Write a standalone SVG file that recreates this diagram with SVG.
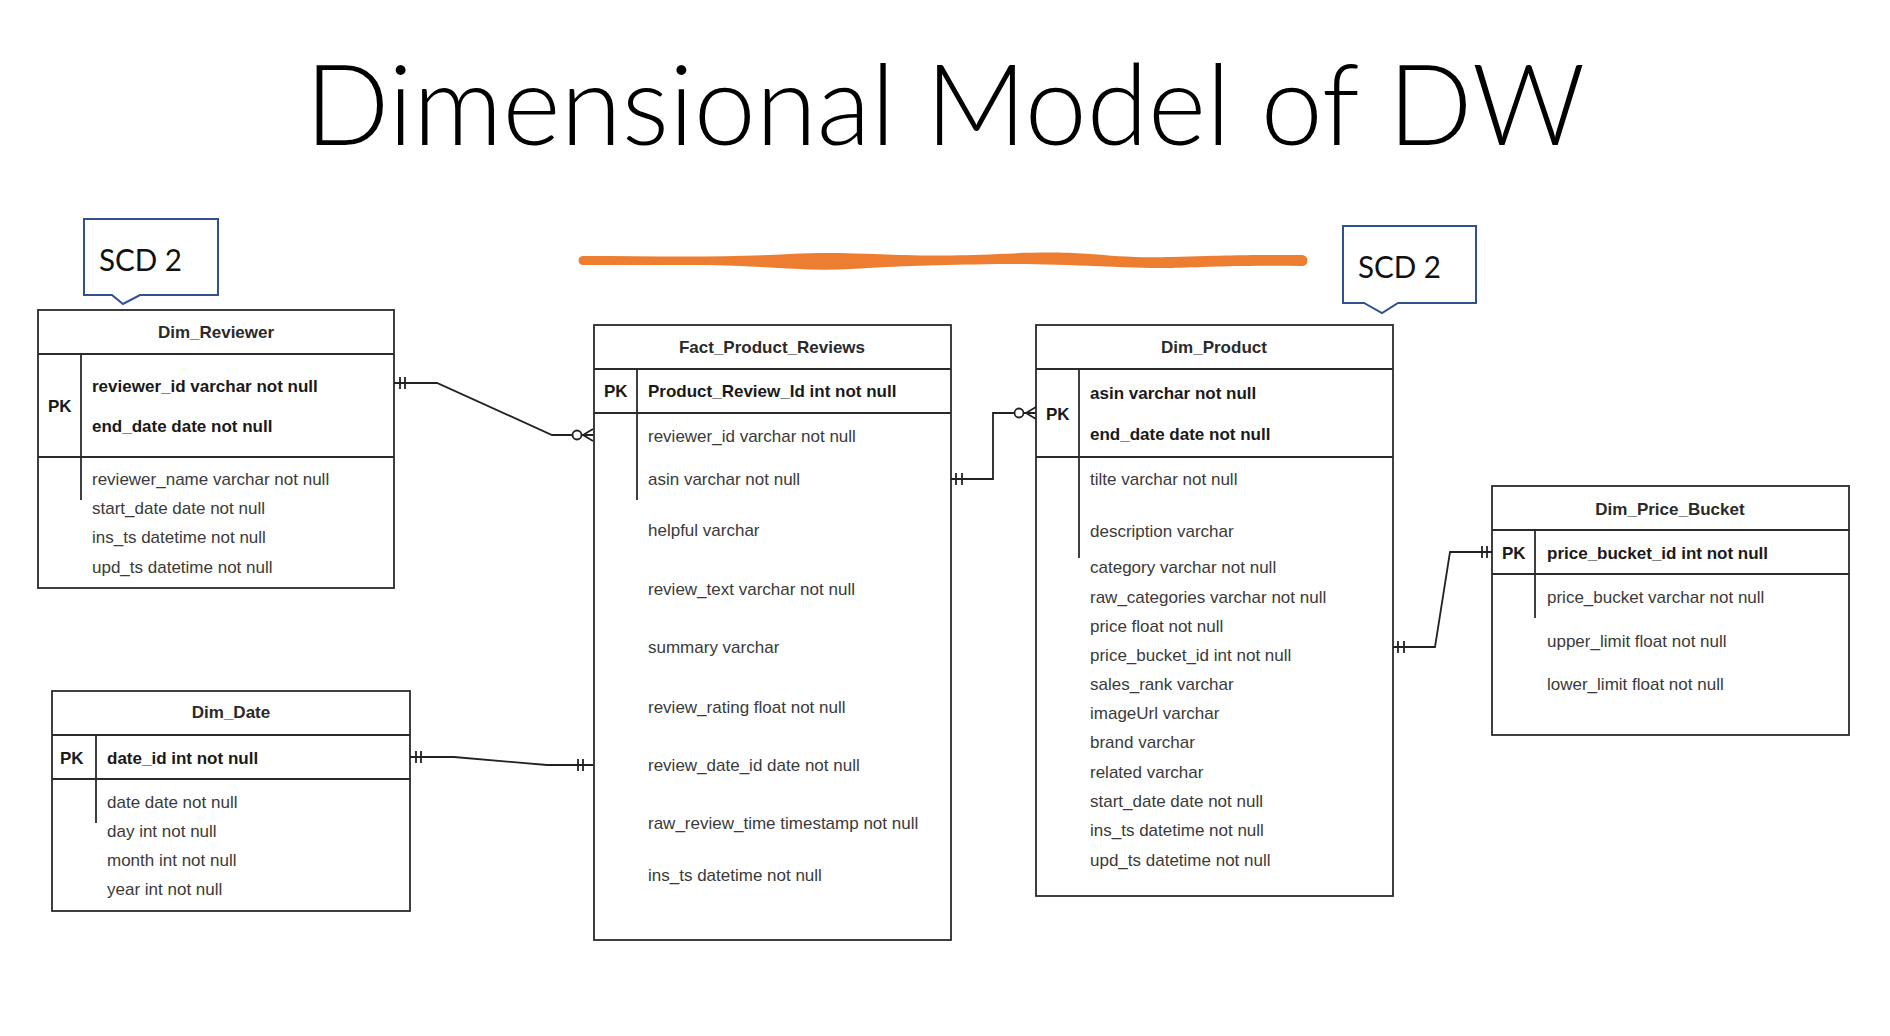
<svg xmlns="http://www.w3.org/2000/svg" width="1890" height="1036" viewBox="0 0 1890 1036">
<style>
.box{fill:#fff;stroke:#2b2b2b;stroke-width:1.8}
.ln{fill:none;stroke:#2b2b2b;stroke-width:1.8}
.hd{font-family:"Liberation Sans",Arial,sans-serif;font-size:17px;font-weight:bold;fill:#2a2a2a;text-anchor:middle}
.b{font-family:"Liberation Sans",Arial,sans-serif;font-size:17px;font-weight:bold;fill:#1a1a1a}
.r{font-family:"Liberation Sans",Arial,sans-serif;font-size:17px;fill:#3a3a3a}
.call{fill:#fff;stroke:#2F528F;stroke-width:2}
.scd{font-family:Lato,"Open Sans",sans-serif;font-size:31px;fill:#111}
.con{fill:none;stroke:#222;stroke-width:1.8}
</style>
<rect width="1890" height="1036" fill="#fff"/>
<text x="305" y="145" font-family="Lato,'Open Sans',sans-serif" font-weight="300" font-size="113" fill="#000" textLength="1280" lengthAdjust="spacingAndGlyphs">Dimensional Model of DW</text>
<path d="M583,256 C650,256 720,258 790,254 S900,259 998,254 S1100,259 1171,257 S1250,255 1302,255 A5.5,5.5 0 0 1 1302,266 C1250,265 1200,267 1171,268 S1060,263 998,264 S900,266 851,269 S760,265 700,265 L583,265 A4.5,4.5 0 0 1 583,256 Z" fill="#ED7D31"/>
<g id="callout-left">
<path class="call" d="M84,219 H218 V295 H140 L123,304 L112,295 H84 Z"/>
<text class="scd" x="99" y="271" textLength="83" lengthAdjust="spacingAndGlyphs">SCD 2</text>
</g>
<g id="callout-right">
<path class="call" d="M1343,226 H1476 V303 H1398 L1382,313 L1364,303 H1343 Z"/>
<text class="scd" x="1358" y="278" textLength="83" lengthAdjust="spacingAndGlyphs">SCD 2</text>
</g>
<g id="Dim_Reviewer">
<rect class="box" x="38" y="310" width="356" height="278"/>
<path class="ln" d="M38,354 H394 M38,457 H394 M81,354 V500"/>
<text class="hd" x="216" y="338">Dim_Reviewer</text>
<text class="b" x="48" y="412">PK</text>
<text class="b" x="92" y="392">reviewer_id varchar not null</text>
<text class="b" x="92" y="432">end_date date not null</text>
<text class="r" x="92" y="485">reviewer_name varchar not null</text>
<text class="r" x="92" y="514">start_date date not null</text>
<text class="r" x="92" y="543">ins_ts datetime not null</text>
<text class="r" x="92" y="573">upd_ts datetime not null</text>
</g>
<g id="Fact_Product_Reviews">
<rect class="box" x="594" y="325" width="357" height="615"/>
<path class="ln" d="M594,369 H951 M594,413 H951 M637,369 V500"/>
<text class="hd" x="772" y="353">Fact_Product_Reviews</text>
<text class="b" x="604" y="397">PK</text>
<text class="b" x="648" y="397">Product_Review_Id int not null</text>
<text class="r" x="648" y="442">reviewer_id varchar not null</text>
<text class="r" x="648" y="485">asin varchar not null</text>
<text class="r" x="648" y="536">helpful varchar</text>
<text class="r" x="648" y="595">review_text varchar not null</text>
<text class="r" x="648" y="653">summary varchar</text>
<text class="r" x="648" y="713">review_rating float not null</text>
<text class="r" x="648" y="771">review_date_id date not null</text>
<text class="r" x="648" y="829">raw_review_time timestamp not null</text>
<text class="r" x="648" y="881">ins_ts datetime not null</text>
</g>
<g id="Dim_Product">
<rect class="box" x="1036" y="325" width="357" height="571"/>
<path class="ln" d="M1036,369 H1393 M1036,457 H1393 M1079,369 V558"/>
<text class="hd" x="1214" y="353">Dim_Product</text>
<text class="b" x="1046" y="420">PK</text>
<text class="b" x="1090" y="399">asin varchar not null</text>
<text class="b" x="1090" y="440">end_date date not null</text>
<text class="r" x="1090" y="485">tilte varchar not null</text>
<text class="r" x="1090" y="537">description varchar</text>
<text class="r" x="1090" y="573">category varchar not null</text>
<text class="r" x="1090" y="603">raw_categories varchar not null</text>
<text class="r" x="1090" y="632">price float not null</text>
<text class="r" x="1090" y="661">price_bucket_id int not null</text>
<text class="r" x="1090" y="690">sales_rank varchar</text>
<text class="r" x="1090" y="719">imageUrl varchar</text>
<text class="r" x="1090" y="748">brand varchar</text>
<text class="r" x="1090" y="778">related varchar</text>
<text class="r" x="1090" y="807">start_date date not null</text>
<text class="r" x="1090" y="836">ins_ts datetime not null</text>
<text class="r" x="1090" y="866">upd_ts datetime not null</text>
</g>
<g id="Dim_Price_Bucket">
<rect class="box" x="1492" y="486" width="357" height="249"/>
<path class="ln" d="M1492,530 H1849 M1492,574 H1849 M1535,530 V618"/>
<text class="hd" x="1670" y="515">Dim_Price_Bucket</text>
<text class="b" x="1502" y="559">PK</text>
<text class="b" x="1547" y="559">price_bucket_id int not null</text>
<text class="r" x="1547" y="603">price_bucket varchar not null</text>
<text class="r" x="1547" y="647">upper_limit float not null</text>
<text class="r" x="1547" y="690">lower_limit float not null</text>
</g>
<g id="Dim_Date">
<rect class="box" x="52" y="691" width="358" height="220"/>
<path class="ln" d="M52,735 H410 M52,779 H410 M96,735 V823"/>
<text class="hd" x="231" y="718">Dim_Date</text>
<text class="b" x="60" y="764">PK</text>
<text class="b" x="107" y="764">date_id int not null</text>
<text class="r" x="107" y="808">date date not null</text>
<text class="r" x="107" y="837">day int not null</text>
<text class="r" x="107" y="866">month int not null</text>
<text class="r" x="107" y="895">year int not null</text>
</g>
<g id="connectors">
<path class="con" d="M394,383 H437 L552,435 H572.5 M581.5,435 H593 M593,429 L583,435 L593,441 M400,377 V389 M405,377 V389"/>
<circle class="con" cx="577" cy="435" r="4.5"/>
<path class="con" d="M410,757 H454 L547,765 H593 M416,751 V763 M421,751 V763 M578,759 V771 M583,759 V771"/>
<path class="con" d="M951,479 H993 V413 H1014.5 M1023.5,413 H1036 M1036,407 L1026,413 L1036,419 M956,473 V485 M962,473 V485"/>
<circle class="con" cx="1019" cy="413" r="4.5"/>
<path class="con" d="M1393,647 H1435 L1450,552 H1492 M1398,641 V653 M1404,641 V653 M1482,546 V558 M1487,546 V558"/>
</g>
</svg>
